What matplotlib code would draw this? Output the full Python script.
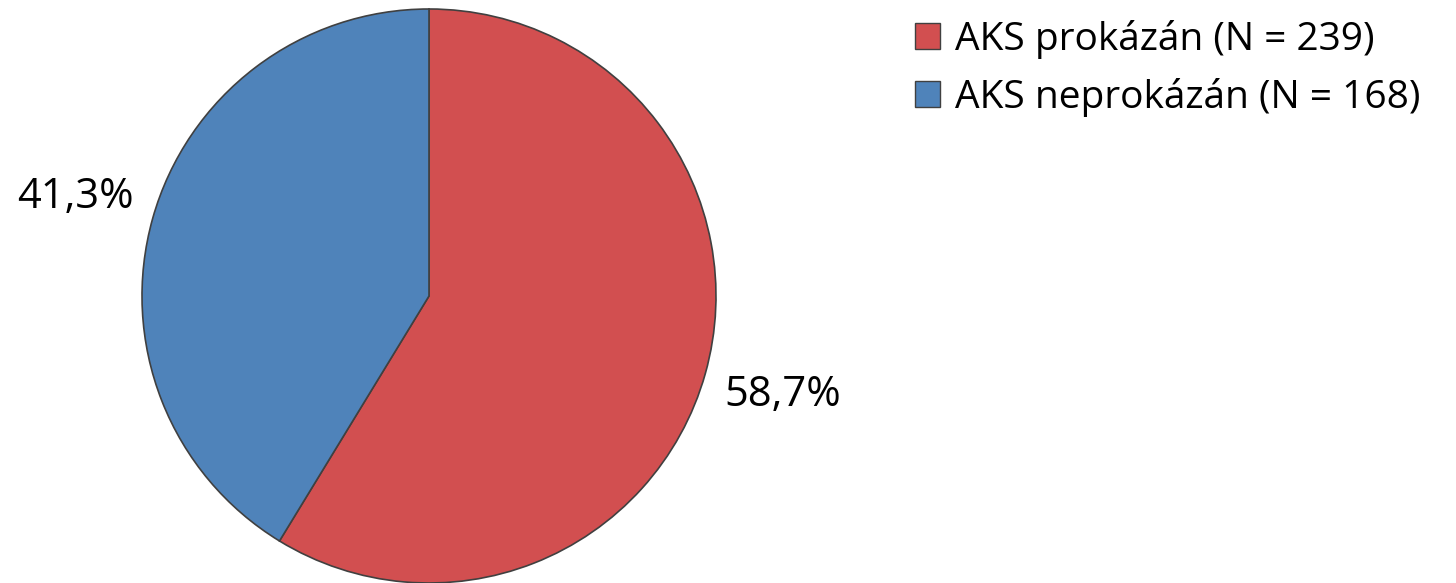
import matplotlib
matplotlib.use("Agg")
import matplotlib.pyplot as plt
from matplotlib.patches import Patch

categories = ["AKS prokázán (N = 239)", "AKS neprokázán (N = 168)"]
counts = [239, 168]
colors = ["#D24F50", "#4F83BA"]

plt.rcParams['font.family'] = ['Open Sans', 'DejaVu Sans']

W, H = 1456, 583
fig = plt.figure(figsize=(W / 100, H / 100), dpi=100)
cx, cy, r = 429, 296, 287
ax = fig.add_axes([(cx - r) / W, (H - cy - r) / H, 2 * r / W, 2 * r / H])

total = sum(counts)
pct_labels = [f"{100 * c / total:.1f}%".replace(".", ",") for c in counts]

wedges, texts = ax.pie(counts, colors=colors, startangle=90, counterclock=False,
                       labels=pct_labels, labeldistance=1.28,
                       wedgeprops=dict(edgecolor="#404040", linewidth=1.2),
                       textprops=dict(fontsize=30, color="black"))
for t in texts:
    t.set_ha("center")
    t.set_va("center")
ax.set_xlim(-1, 1)
ax.set_ylim(-1, 1)
ax.set_aspect("equal")
ax.axis("off")

handles = [Patch(facecolor=c, edgecolor="#404040", linewidth=1.0) for c in colors]
fig.legend(handles, categories, loc="upper left",
           bbox_to_anchor=(915 / W, 1 - 20 / H), frameon=False,
           fontsize=28, handlelength=0.64, handleheight=0.64,
           handletextpad=0.4, labelspacing=0.48, borderpad=0, borderaxespad=0)

fig.savefig("out.png", dpi=100)
